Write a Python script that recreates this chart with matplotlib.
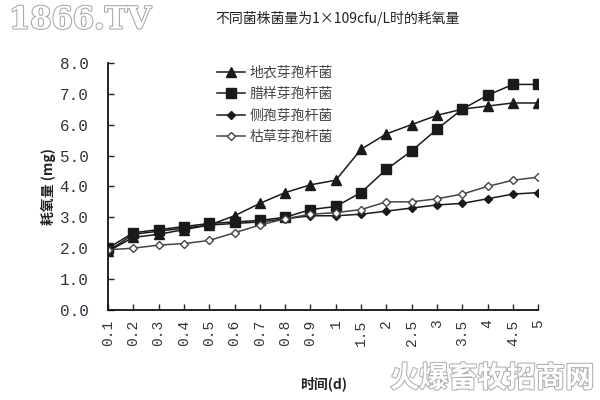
import numpy as np
import matplotlib
matplotlib.use("Agg")
import matplotlib.pyplot as plt
import matplotlib.patheffects as pe

plt.rcParams['font.family'] = ['Liberation Mono', 'Noto Sans CJK SC', 'DejaVu Sans']

# time points (d), shown as categories
days = ["0.1", "0.2", "0.3", "0.4", "0.5", "0.6", "0.7", "0.8", "0.9",
        "1", "1.5", "2", "2.5", "3", "3.5", "4", "4.5", "5"]

# oxygen consumption (mg)
dy_yibao = [1.9, 2.35, 2.45, 2.6, 2.75, 3.05, 3.45, 3.8, 4.05,
            4.2, 5.2, 5.7, 6.0, 6.3, 6.5, 6.6, 6.7, 6.7]
layang = [2.0, 2.5, 2.6, 2.7, 2.8, 2.85, 2.9, 3.0, 3.25,
          3.35, 3.8, 4.55, 5.15, 5.85, 6.5, 6.95, 7.3, 7.3]
cebao = [1.9, 2.45, 2.55, 2.65, 2.75, 2.8, 2.85, 2.95, 3.05,
         3.05, 3.1, 3.2, 3.3, 3.4, 3.45, 3.6, 3.75, 3.8]
kucao = [1.95, 2.0, 2.1, 2.15, 2.25, 2.5, 2.75, 2.95, 3.1,
         3.15, 3.25, 3.5, 3.5, 3.6, 3.75, 4.0, 4.2, 4.3]

names = ["地衣芽孢杆菌", "腊样芽孢杆菌", "侧孢芽孢杆菌", "枯草芽孢杆菌"]

fig = plt.figure(figsize=(6, 4), dpi=100)
ax = fig.add_axes([0.18, 0.225, 0.717, 0.618])

x = np.arange(len(days))
lc = '#1a1a1a'
ax.plot(x, dy_yibao, color=lc, lw=1.1, marker='^', ms=6.5, mfc=lc, mec=lc, label=names[0])
ax.plot(x, layang, color=lc, lw=1.1, marker='s', ms=6.5, mfc=lc, mec=lc, label=names[1])
ax.plot(x, cebao, color=lc, lw=1.1, marker='D', ms=4.5, mfc=lc, mec=lc, label=names[2])
ax.plot(x, kucao, color='#444444', lw=1.1, marker='D', ms=4.5, mfc='white', mec='#444444', label=names[3])

ax.set_xlim(0, len(days) - 1)
ax.set_ylim(0, 8)
ax.set_yticks(np.arange(0, 9, 1))
ax.set_yticklabels(["%.1f" % v for v in np.arange(0, 9, 1)], fontsize=11.5, color='#333344')
ax.set_xticks(x)
ax.set_xticklabels(days, rotation=90, fontsize=10.5, color='#333344')
ax.tick_params(direction='in', length=4, width=1, colors='#222222', labelcolor='#333344')
ax.tick_params(axis='y', pad=14)
ax.tick_params(axis='x', pad=7)
for s in ['top', 'right']:
    ax.spines[s].set_visible(False)
for s in ['left', 'bottom']:
    ax.spines[s].set_linewidth(1.3)
    ax.spines[s].set_color('#111111')

ax.set_ylabel("耗氧量 (mg)", fontsize=10, family=['Noto Sans CJK SC'], fontweight='bold', color='#222222', labelpad=3)
ax.set_xlabel("时间(d)", fontsize=10, family=['Noto Sans CJK SC'], fontweight='bold', color='#222222', labelpad=22)

leg = ax.legend(loc='upper left', bbox_to_anchor=(0.225, 1.04), frameon=False, numpoints=1,
                prop={'family': 'Noto Sans CJK SC', 'size': 10}, handlelength=2.0,
                labelspacing=0.55, handletextpad=0.3)
for t in leg.get_texts():
    t.set_color('#444444')

fig.text(0.562, 0.955, "不同菌株菌量为1×109cfu/L时的耗氧量", ha='center', va='center',
         fontsize=10, family=['Noto Sans CJK SC'], color='#222222')

# watermarks
fig.text(0.015, 0.95, "1866.TV", ha='left', va='center', fontsize=22, family=['DejaVu Serif'],
         fontweight='bold', color='white',
         path_effects=[pe.withStroke(linewidth=1.5, foreground='#a8a8a8')])
fig.text(0.99, 0.055, "火爆畜牧招商网", ha='right', va='center', fontsize=21, family=['Noto Sans CJK SC'],
         fontweight='bold', color='white',
         path_effects=[pe.withStroke(linewidth=1.5, foreground='#b0b0b0')])

fig.savefig("out.png", dpi=100)
